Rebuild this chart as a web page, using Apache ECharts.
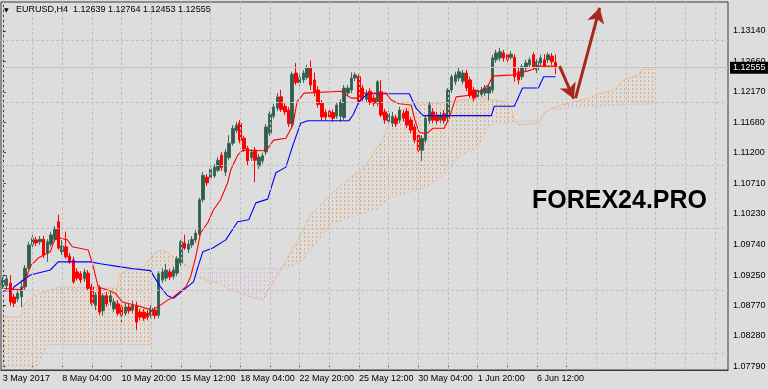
<!DOCTYPE html>
<html><head><meta charset="utf-8">
<script src="https://cdn.jsdelivr.net/npm/echarts@6/dist/echarts.min.js"></script>
<style>html,body{margin:0;padding:0;background:#dddddd}#c{width:768px;height:389px}</style>
</head><body><div id="c"></div>
<script>
const symbolTitle = 'EURUSD,H4';
const lastQuote = [1.12639, 1.12764, 1.12453, 1.12555]; // O H L C
const slotCount = 196;
const timeLabels = ['3 May 2017','8 May 04:00','10 May 20:00','15 May 12:00','18 May 04:00','22 May 20:00','25 May 12:00','30 May 04:00','1 Jun 20:00','6 Jun 12:00'];
const labelStep = 16;
const gridStep = 8;
const priceTicks = [1.07790,1.08280,1.08770,1.09250,1.09740,1.10230,1.10710,1.11200,1.11680,1.12170,1.12660,1.13140];
const yMin = 1.07736, yMax = 1.13602;

// [open, close, low, high]
const ohlc = [
[1.0909,1.0917,1.0903,1.0922],[1.0908,1.0919,1.0901,1.0925],[1.0912,1.0882,1.0876,1.0925],[1.0890,1.0880,1.0874,1.0895],
[1.0887,1.0896,1.0882,1.0903],[1.0890,1.0906,1.0874,1.0917],[1.0906,1.0936,1.0901,1.0941],[1.0936,1.0973,1.0933,1.0978],
[1.0973,1.0984,1.0965,1.0989],[1.0981,1.0976,1.0971,1.0986],[1.0978,1.0982,1.0973,1.0987],[1.0982,1.0957,1.0952,1.0987],
[1.0960,1.0978,1.0946,1.0982],[1.0974,1.0989,1.0970,1.0994],[1.0982,1.0998,1.0978,1.1003],[1.1010,1.0968,1.0965,1.1021],
[1.0962,1.0971,1.0957,1.0981],[1.0970,1.0954,1.0951,1.0994],[1.0955,1.0946,1.0943,1.0960],[1.0949,1.0914,1.0911,1.0954],
[1.0930,1.0920,1.0916,1.0936],[1.0927,1.0917,1.0912,1.0931],[1.0919,1.0930,1.0914,1.0935],[1.0928,1.0904,1.0900,1.0933],
[1.0906,1.0880,1.0876,1.0911],[1.0877,1.0893,1.0869,1.0898],[1.0904,1.0866,1.0861,1.0909],[1.0868,1.0892,1.0860,1.0896],
[1.0892,1.0879,1.0874,1.0898],[1.0882,1.0892,1.0876,1.0898],[1.0871,1.0882,1.0866,1.0888],[1.0879,1.0864,1.0860,1.0885],
[1.0874,1.0861,1.0850,1.0880],[1.0864,1.0874,1.0860,1.0880],[1.0874,1.0868,1.0863,1.0879],[1.0869,1.0877,1.0864,1.0884],
[1.0876,1.0850,1.0837,1.0882],[1.0866,1.0858,1.0853,1.0871],[1.0866,1.0856,1.0852,1.0871],[1.0864,1.0858,1.0853,1.0869],
[1.0861,1.0872,1.0856,1.0877],[1.0869,1.0860,1.0855,1.0874],[1.0861,1.0927,1.0856,1.0931],[1.0917,1.0930,1.0912,1.0936],
[1.0920,1.0933,1.0915,1.0943],[1.0930,1.0922,1.0917,1.0935],[1.0923,1.0933,1.0918,1.0938],[1.0928,1.0951,1.0923,1.0955],
[1.0944,1.0978,1.0939,1.0981],[1.0976,1.0968,1.0965,1.0989],[1.0966,1.0974,1.0960,1.0981],[1.0973,1.0982,1.0968,1.0987],
[1.0981,1.0992,1.0976,1.0997],[1.0990,1.1045,1.0987,1.1048],[1.1045,1.1084,1.1041,1.1089],[1.1081,1.1072,1.1067,1.1086],
[1.1080,1.1094,1.1076,1.1099],[1.1083,1.1097,1.1080,1.1102],[1.1092,1.1108,1.1089,1.1113],[1.1116,1.1096,1.1091,1.1121],
[1.1089,1.1121,1.1083,1.1126],[1.1112,1.1135,1.1108,1.1148],[1.1135,1.1159,1.1131,1.1164],[1.1155,1.1164,1.1151,1.1169],
[1.1167,1.1140,1.1135,1.1172],[1.1143,1.1126,1.1121,1.1147],[1.1127,1.1107,1.1100,1.1131],[1.1112,1.1121,1.1107,1.1126],
[1.1124,1.1108,1.1073,1.1129],[1.1099,1.1113,1.1094,1.1118],[1.1107,1.1115,1.1102,1.1120],[1.1121,1.1161,1.1116,1.1166],
[1.1151,1.1182,1.1147,1.1186],[1.1178,1.1193,1.1174,1.1198],[1.1191,1.1209,1.1186,1.1215],[1.1209,1.1189,1.1185,1.1220],
[1.1194,1.1185,1.1180,1.1199],[1.1188,1.1166,1.1161,1.1193],[1.1166,1.1245,1.1161,1.1249],[1.1247,1.1232,1.1228,1.1263],
[1.1231,1.1240,1.1226,1.1245],[1.1236,1.1247,1.1231,1.1252],[1.1240,1.1255,1.1236,1.1260],[1.1255,1.1228,1.1220,1.1267],
[1.1236,1.1216,1.1210,1.1248],[1.1220,1.1197,1.1192,1.1226],[1.1199,1.1177,1.1172,1.1204],[1.1184,1.1177,1.1172,1.1189],
[1.1186,1.1177,1.1172,1.1191],[1.1184,1.1175,1.1169,1.1189],[1.1178,1.1196,1.1174,1.1200],[1.1178,1.1200,1.1169,1.1205],
[1.1176,1.1223,1.1172,1.1228],[1.1215,1.1223,1.1210,1.1228],[1.1220,1.1239,1.1215,1.1248],[1.1239,1.1244,1.1234,1.1248],
[1.1241,1.1202,1.1197,1.1245],[1.1223,1.1207,1.1202,1.1228],[1.1205,1.1215,1.1200,1.1220],[1.1218,1.1200,1.1196,1.1223],
[1.1207,1.1199,1.1194,1.1212],[1.1199,1.1233,1.1194,1.1236],[1.1217,1.1180,1.1177,1.1236],[1.1185,1.1172,1.1166,1.1190],
[1.1170,1.1182,1.1164,1.1186],[1.1167,1.1178,1.1161,1.1185],[1.1175,1.1166,1.1161,1.1180],[1.1172,1.1188,1.1167,1.1193],
[1.1183,1.1175,1.1170,1.1188],[1.1186,1.1164,1.1159,1.1191],[1.1172,1.1156,1.1151,1.1177],[1.1161,1.1140,1.1135,1.1166],
[1.1148,1.1124,1.1118,1.1153],[1.1124,1.1143,1.1107,1.1148],[1.1140,1.1175,1.1135,1.1180],[1.1171,1.1196,1.1166,1.1201],
[1.1185,1.1172,1.1167,1.1191],[1.1180,1.1171,1.1166,1.1185],[1.1172,1.1180,1.1167,1.1185],[1.1182,1.1171,1.1166,1.1188],
[1.1175,1.1220,1.1170,1.1223],[1.1220,1.1241,1.1215,1.1245],[1.1233,1.1244,1.1228,1.1249],[1.1239,1.1249,1.1234,1.1255],
[1.1234,1.1247,1.1229,1.1252],[1.1247,1.1223,1.1218,1.1252],[1.1236,1.1212,1.1207,1.1241],[1.1220,1.1207,1.1202,1.1225],
[1.1209,1.1220,1.1204,1.1225],[1.1213,1.1220,1.1209,1.1225],[1.1215,1.1223,1.1210,1.1228],[1.1215,1.1225,1.1204,1.1229],
[1.1220,1.1271,1.1215,1.1276],[1.1268,1.1279,1.1263,1.1284],[1.1271,1.1281,1.1266,1.1287],[1.1279,1.1271,1.1265,1.1284],
[1.1276,1.1268,1.1263,1.1280],[1.1272,1.1277,1.1268,1.1282],[1.1272,1.1241,1.1233,1.1277],[1.1249,1.1236,1.1229,1.1255],
[1.1241,1.1257,1.1236,1.1261],[1.1255,1.1263,1.1250,1.1268],[1.1260,1.1268,1.1255,1.1272],[1.1276,1.1257,1.1252,1.1280],
[1.1252,1.1265,1.1247,1.1269],[1.1263,1.1271,1.1258,1.1276],[1.1268,1.1258,1.1255,1.1277],[1.1268,1.1276,1.1263,1.1280],
[1.1274,1.1265,1.1260,1.1279],[1.12639,1.12555,1.12453,1.12764]
];

// [bar index, price]
const tenkan = [[0,1.0904],[5.2,1.0901],[6.3,1.0920],[7.4,1.0939],[9.5,1.0952],[12.8,1.0962],[13.9,1.0981],[15.5,1.0984],[17.4,1.0981],[18.7,1.0970],[23.0,1.0965],[24.4,1.0938],[25.7,1.0906],[28.2,1.0901],[30.3,1.0896],[32.2,1.0882],[36.3,1.0876],[40.3,1.0869],[42.5,1.0877],[44.4,1.0885],[46.0,1.0890],[49.3,1.0906],[50.6,1.0922],[52.0,1.0954],[53.3,1.0992],[55.2,1.1008],[56.8,1.1029],[58.7,1.1045],[60.6,1.1072],[61.4,1.1092],[63.3,1.1116],[64.7,1.1124],[70.9,1.1123],[73.0,1.1140],[76.3,1.1143],[78.2,1.1164],[79.3,1.1201],[81.2,1.1215],[91.2,1.1218],[93.9,1.1207],[96.0,1.1207],[97.1,1.1215],[103.3,1.1215],[104.7,1.1204],[106.8,1.1198],[110.1,1.1196],[111.1,1.1172],[112.2,1.1153],[114.1,1.1150],[116.0,1.1159],[119.0,1.1159],[120.3,1.1175],[122.2,1.1209],[126.3,1.1212],[128.4,1.1217],[130.9,1.1228],[132.0,1.1242],[137.6,1.1244],[142.5,1.1252],[144.4,1.1258],[149.0,1.1258]];
const kijun = [[0,1.0900],[2.5,1.0900],[3.0,1.0906],[7.4,1.0925],[12.8,1.0933],[14.9,1.0946],[23.6,1.0946],[26.3,1.0943],[31.7,1.0938],[35.2,1.0935],[39.8,1.0932],[42.5,1.0906],[44.4,1.0892],[46.0,1.0888],[51.4,1.0914],[52.5,1.0936],[53.9,1.0962],[56.6,1.0968],[60.1,1.0981],[63.3,1.1010],[66.3,1.1013],[68.2,1.1040],[71.4,1.1046],[73.6,1.1088],[76.3,1.1097],[78.2,1.1132],[80.3,1.1167],[82.2,1.1171],[93.3,1.1171],[94.4,1.1180],[96.0,1.1201],[97.4,1.1209],[98.4,1.1214],[109.6,1.1214],[111.4,1.1191],[113.3,1.1179],[131.7,1.1179],[132.5,1.1194],[137.9,1.1194],[140.1,1.1223],[144.4,1.1223],[145.8,1.1241],[149.0,1.1241]];
const senkouA = [[0,1.0858],[4.7,1.0858],[5.5,1.0877],[8.2,1.0892],[12.8,1.0901],[14.9,1.0906],[30.9,1.0904],[31.2,1.0925],[33.6,1.0933],[37.9,1.0938],[41.2,1.0962],[43.3,1.0965],[45.2,1.0957],[47.9,1.0949],[50.1,1.0938],[52.5,1.0922],[54.7,1.0917],[57.9,1.0912],[60.6,1.0904],[64.1,1.0896],[66.8,1.0890],[70.1,1.0885],[74.9,1.0933],[79.5,1.0981],[83.0,1.1021],[87.6,1.1048],[90.3,1.1064],[93.9,1.1081],[97.4,1.1097],[99.3,1.1113],[102.0,1.1137],[103.9,1.1164],[106.6,1.1185],[109.3,1.1193],[112.0,1.1196],[117.4,1.1199],[124.4,1.1204],[129.8,1.1207],[132.5,1.1204],[135.7,1.1201],[137.1,1.1191],[137.9,1.1172],[139.0,1.1164],[144.4,1.1167],[146.0,1.1183],[147.9,1.1191],[150.6,1.1196],[154.1,1.1201],[157.9,1.1207],[161.4,1.1215],[164.9,1.1220],[167.4,1.1236],[171.4,1.1244],[172.2,1.1253],[175.5,1.1253]];
const senkouB = [[0,1.0780],[9.5,1.0780],[12.0,1.0814],[39.8,1.0814],[40.3,1.0936],[76.3,1.0936],[80.3,1.0946],[88.4,1.1005],[95.7,1.1021],[100.6,1.1029],[104.7,1.1049],[114.7,1.1065],[120.1,1.1092],[123.6,1.1116],[128.2,1.1129],[131.2,1.1164],[137.6,1.1169],[145.2,1.1172],[146.6,1.1188],[157.9,1.1194],[175.5,1.1198]];
const cloudSplit = [50.2, 75.2];
const arrowDown = [[150.1,1.1258],[153.9,1.1206]];
const arrowUp = [[154.4,1.1207],[160.9,1.1351]];
const watermark = 'FOREX24.PRO';

const FONT = '"Liberation Sans", Arial, sans-serif';
const categories = Array.from({length: slotCount}, (_, i) => String(i));
const gridX = Array.from({length: Math.floor(slotCount / gridStep) + 1}, (_, k) => k * gridStep).filter(v => v < slotCount);
const labelX = timeLabels.map((_, k) => k * labelStep);
const tickX = gridX.filter(v => v <= 152);

function hatch(color) {
  const c = document.createElement('canvas');
  c.width = 4; c.height = 4;
  const g = c.getContext('2d');
  g.fillStyle = color;
  g.fillRect(0, 0, 1, 2);
  return c;
}
const orangeHatch = {image: hatch('rgba(244,164,96,0.95)'), repeat: 'repeat'};
const plumHatch = {image: hatch('rgba(218,178,218,0.9)'), repeat: 'repeat'};

function interp(pts, x) {
  if (x <= pts[0][0]) return pts[0][1];
  for (let i = 0; i < pts.length - 1; i++) {
    const a = pts[i], b = pts[i + 1];
    if (x >= a[0] && x <= b[0]) { const t = (x - a[0]) / ((b[0] - a[0]) || 1); return a[1] + t * (b[1] - a[1]); }
  }
  return pts[pts.length - 1][1];
}
function segment(s, e) {
  const top = [[s, interp(senkouA, s)]].concat(senkouA.filter(p => p[0] > s && p[0] < e), [[e, interp(senkouA, e)]]);
  const bot = [[s, interp(senkouB, s)]].concat(senkouB.filter(p => p[0] > s && p[0] < e), [[e, interp(senkouB, e)]]);
  return top.concat(bot.reverse());
}
const cloudEnd = senkouA[senkouA.length - 1][0];
const cloudParts = [
  {pts: segment(0, cloudSplit[0]), fill: orangeHatch},
  {pts: segment(cloudSplit[0], cloudSplit[1]), fill: plumHatch},
  {pts: segment(cloudSplit[1], cloudEnd), fill: orangeHatch}
];

const chart = echarts.init(document.getElementById('c'), null, {renderer: 'canvas'});
chart.setOption({
  animation: false,
  backgroundColor: '#dddddd',
  textStyle: {fontFamily: FONT},
  grid: {left: 1, right: 40, top: 2, bottom: 19, show: true, borderColor: '#3a3a3a', borderWidth: 1, backgroundColor: 'transparent', containLabel: false, outerBoundsMode: 'none'},
  xAxis: [
    {type: 'category', data: categories, boundaryGap: true, position: 'bottom',
     axisLine: {show: false}, axisTick: {show: false}, axisLabel: {show: false}, splitLine: {show: false}},
    {type: 'value', min: -0.5, max: slotCount - 0.5, position: 'bottom',
     axisLine: {show: true, lineStyle: {color: '#3a3a3a'}},
     axisTick: {show: true, inside: true, length: 4, customValues: tickX, lineStyle: {color: '#3a3a3a'}},
     axisLabel: {show: true, customValues: labelX, formatter: (v) => timeLabels[Math.round(v / labelStep)] || '',
       align: 'left', fontSize: 9, color: '#000', margin: 4, fontFamily: FONT, hideOverlap: false},
     splitLine: {show: false}}
  ],
  yAxis: {type: 'value', position: 'right', min: yMin, max: yMax, scale: true,
    axisLine: {show: true, lineStyle: {color: '#3a3a3a'}},
    axisTick: {show: true, length: 3, customValues: priceTicks, lineStyle: {color: '#3a3a3a'}},
    axisLabel: {customValues: priceTicks, formatter: (v) => v.toFixed(5), fontSize: 9, color: '#000', margin: 5, fontFamily: FONT},
    splitLine: {show: false}},
  graphic: [
    {type: 'text', x: 4, y: 10, z: 50, style: {text: '\u25BC', font: '6px "DejaVu Sans"', fill: '#000', verticalAlign: 'middle'}},
    {type: 'text', x: 16, y: 10, z: 50, style: {text: symbolTitle + '  ' + lastQuote.map(v => v.toFixed(5)).join(' '), font: '9px ' + FONT, fill: '#000', verticalAlign: 'middle'}},
    {type: 'text', x: 532, y: 201, z: 100, style: {text: watermark, font: 'bold 25px ' + FONT, fill: '#000', verticalAlign: 'middle'}}
  ],
  series: [
    {name: 'grid', type: 'line', xAxisIndex: 1, yAxisIndex: 0, z: 0, silent: true, data: [], symbol: 'none',
     markLine: {silent: true, symbol: 'none', animation: false, label: {show: false},
       lineStyle: {color: '#c0c0c0', type: [3, 2], width: 1},
       data: priceTicks.map(v => ({yAxis: v})).concat(gridX.map(i => ({xAxis: i})))}},
    {name: 'cloud', type: 'custom', xAxisIndex: 1, yAxisIndex: 0, z: 1, silent: true, data: [[0, yMin]],
     renderItem: (params, api) => ({type: 'group', children: cloudParts.map(c => ({
       type: 'polygon', shape: {points: c.pts.map(p => api.coord(p))}, style: {fill: c.fill, stroke: null}}))})},
    {name: 'Senkou Span B', type: 'line', xAxisIndex: 1, data: senkouB, symbol: 'none', z: 2, silent: true,
     lineStyle: {color: '#d8bfd8', width: 1, type: 'dotted'}},
    {name: 'Senkou Span A', type: 'line', xAxisIndex: 1, data: senkouA, symbol: 'none', z: 2, silent: true,
     lineStyle: {color: '#f4a460', width: 1, type: 'dotted'}},
    {name: 'EURUSD', type: 'candlestick', xAxisIndex: 0, yAxisIndex: 0, data: ohlc, barWidth: 3, z: 3,
     itemStyle: {color: '#2f5d4c', color0: '#ff0000', borderColor: '#3f6a5a', borderColor0: '#ff0000', borderWidth: 1},
     markLine: {silent: true, symbol: 'none', precision: 5, animation: false,
       data: [{yAxis: lastQuote[3]}],
       lineStyle: {color: '#c4c4c4', type: 'solid', width: 1},
       label: {show: true, position: 'end', formatter: lastQuote[3].toFixed(5), color: '#fff', backgroundColor: '#000',
         padding: [2, 3, 1, 3], fontSize: 9, fontFamily: FONT, distance: 2}}},
    {name: 'Kijun-sen', type: 'line', xAxisIndex: 1, data: kijun, symbol: 'none', z: 4, silent: true,
     lineStyle: {color: '#0000ff', width: 1.1}},
    {name: 'Tenkan-sen', type: 'line', xAxisIndex: 1, data: tenkan, symbol: 'none', z: 4, silent: true,
     lineStyle: {color: '#ff0000', width: 1.1}},
    {name: 'arrows', type: 'line', xAxisIndex: 1, data: [], symbol: 'none', z: 6, silent: true,
     markLine: {silent: true, animation: false, symbol: ['none', 'arrow'], symbolSize: [13, 15], label: {show: false},
       lineStyle: {color: '#a8281e', width: 3, type: 'solid', opacity: 1},
       data: [[{coord: arrowDown[0]}, {coord: arrowDown[1]}], [{coord: arrowUp[0]}, {coord: arrowUp[1]}]]}}
  ]
});
</script></body></html>
